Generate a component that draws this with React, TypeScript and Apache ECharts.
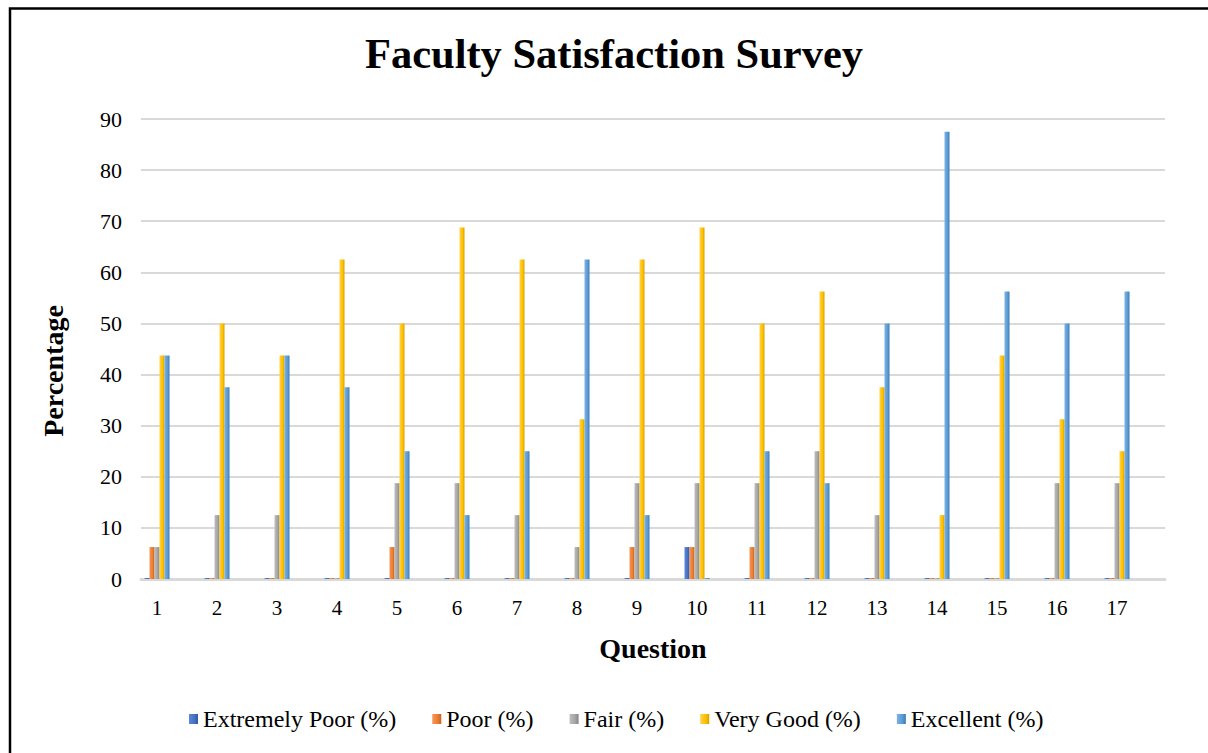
import React, { useEffect, useRef } from "react";
import * as echarts from "echarts";

const categories = ["1", "2", "3", "4", "5", "6", "7", "8", "9", "10", "11", "12", "13", "14", "15", "16", "17"];
const extremelyPoor = [0, 0, 0, 0, 0, 0, 0, 0, 0, 6.25, 0, 0, 0, 0, 0, 0, 0];
const poor = [6.25, 0, 0, 0, 6.25, 0, 0, 0, 6.25, 6.25, 6.25, 0, 0, 0, 0, 0, 0];
const fair = [6.25, 12.5, 12.5, 0, 18.75, 18.75, 12.5, 6.25, 18.75, 18.75, 18.75, 25, 12.5, 0, 0, 18.75, 18.75];
const veryGood = [43.75, 50, 43.75, 62.5, 50, 68.75, 62.5, 31.25, 62.5, 68.75, 50, 56.25, 37.5, 12.5, 43.75, 31.25, 25];
const excellent = [43.75, 37.5, 43.75, 37.5, 25, 12.5, 25, 62.5, 12.5, 0, 25, 18.75, 50, 87.5, 56.25, 50, 56.25];

const seriesNames = ["Extremely Poor (%)", "Poor (%)", "Fair (%)", "Very Good (%)", "Excellent (%)"];
const seriesData = [extremelyPoor, poor, fair, veryGood, excellent];
const palette = [
  ["#5b86d6", "#4472C4", "#2f58a3"],
  ["#f5955a", "#ED7D31", "#c8621c"],
  ["#bdbdbd", "#A5A5A5", "#858585"],
  ["#ffd24d", "#FFC000", "#d9a300"],
  ["#7db2e3", "#5B9BD5", "#3b7cb8"],
];

const SERIF = "Liberation Serif";

function grad(c: string[]) {
  return new echarts.graphic.LinearGradient(0, 0, 1, 0, [
    { offset: 0, color: c[0] },
    { offset: 0.6, color: c[1] },
    { offset: 1, color: c[2] },
  ]);
}

export default function App() {
  const ref = useRef<HTMLDivElement>(null);
  useEffect(() => {
    if (!ref.current) return;
    const chart = echarts.init(ref.current, null, { renderer: "svg" });
    const top = 119;
    const bottom = 753 - 579;
    chart.setOption({
      animation: false,
      backgroundColor: "#ffffff",
      textStyle: { fontFamily: SERIF, color: "#000" },
      title: {
        text: "Faculty Satisfaction Survey",
        left: 609,
        top: 27,
        textAlign: "center",
        textStyle: { fontFamily: SERIF, fontSize: 42.5, fontWeight: "bold", color: "#000" },
      },
      legend: {
        bottom: 17,
        left: 184,
        icon: "rect",
        itemWidth: 9,
        itemHeight: 10,
        itemGap: 36,
        textStyle: { fontFamily: SERIF, fontSize: 24, color: "#000" },
        data: seriesNames,
      },
      graphic: [
        {
          type: "rect",
          shape: { x: 10, y: 8.5, width: 1300, height: 900 },
          style: { fill: "none", stroke: "#000", lineWidth: 2.5 },
          silent: true,
        },
      ],
      grid: [
        { left: 127, right: 61, top, bottom },
        { left: 141, right: 43, top, bottom },
      ],
      xAxis: [
        {
          type: "category",
          gridIndex: 0,
          data: categories,
          axisLine: { show: false },
          axisTick: { show: false },
          axisLabel: { fontFamily: SERIF, fontSize: 21, color: "#000", margin: 18 },
        },
        {
          type: "category",
          gridIndex: 1,
          data: categories,
          axisLine: { show: true, lineStyle: { color: "#d9d9d9", width: 3 } },
          axisTick: { show: false },
          axisLabel: { show: false },
          name: "Question",
          nameLocation: "middle",
          nameGap: 55,
          nameTextStyle: { fontFamily: SERIF, fontSize: 28, fontWeight: "bold", color: "#000" },
        },
      ],
      yAxis: [
        {
          type: "value",
          gridIndex: 0,
          min: 0,
          max: 90,
          interval: 10,
          axisLine: { show: false },
          axisTick: { show: false },
          splitLine: { show: false },
          axisLabel: { fontFamily: SERIF, fontSize: 22, color: "#000", margin: 5 },
        },
        {
          type: "value",
          gridIndex: 1,
          min: 0,
          max: 90,
          interval: 10,
          axisLine: { show: false },
          axisTick: { show: false },
          axisLabel: { show: false },
          splitLine: { show: true, lineStyle: { color: "#d9d9d9", width: 2 } },
          name: "Percentage",
          nameLocation: "middle",
          nameGap: 74,
          nameTextStyle: {
            fontFamily: SERIF,
            fontSize: 28,
            fontWeight: "bold",
            color: "#000",
            padding: [0, 44, 0, 0],
          },
        },
      ],
      series: seriesNames.map((name, i) => ({
        name,
        type: "bar",
        xAxisIndex: 0,
        yAxisIndex: 0,
        data: seriesData[i],
        barWidth: 5,
        barGap: "0%",
        barMinHeight: 1,
        itemStyle: { color: grad(palette[i]) },
        z: 3,
      })),
    });
    return () => chart.dispose();
  }, []);
  return (
    <div
      ref={ref}
      style={{ position: "absolute", left: 0, top: 0, width: 1208, height: 753 }}
    />
  );
}
